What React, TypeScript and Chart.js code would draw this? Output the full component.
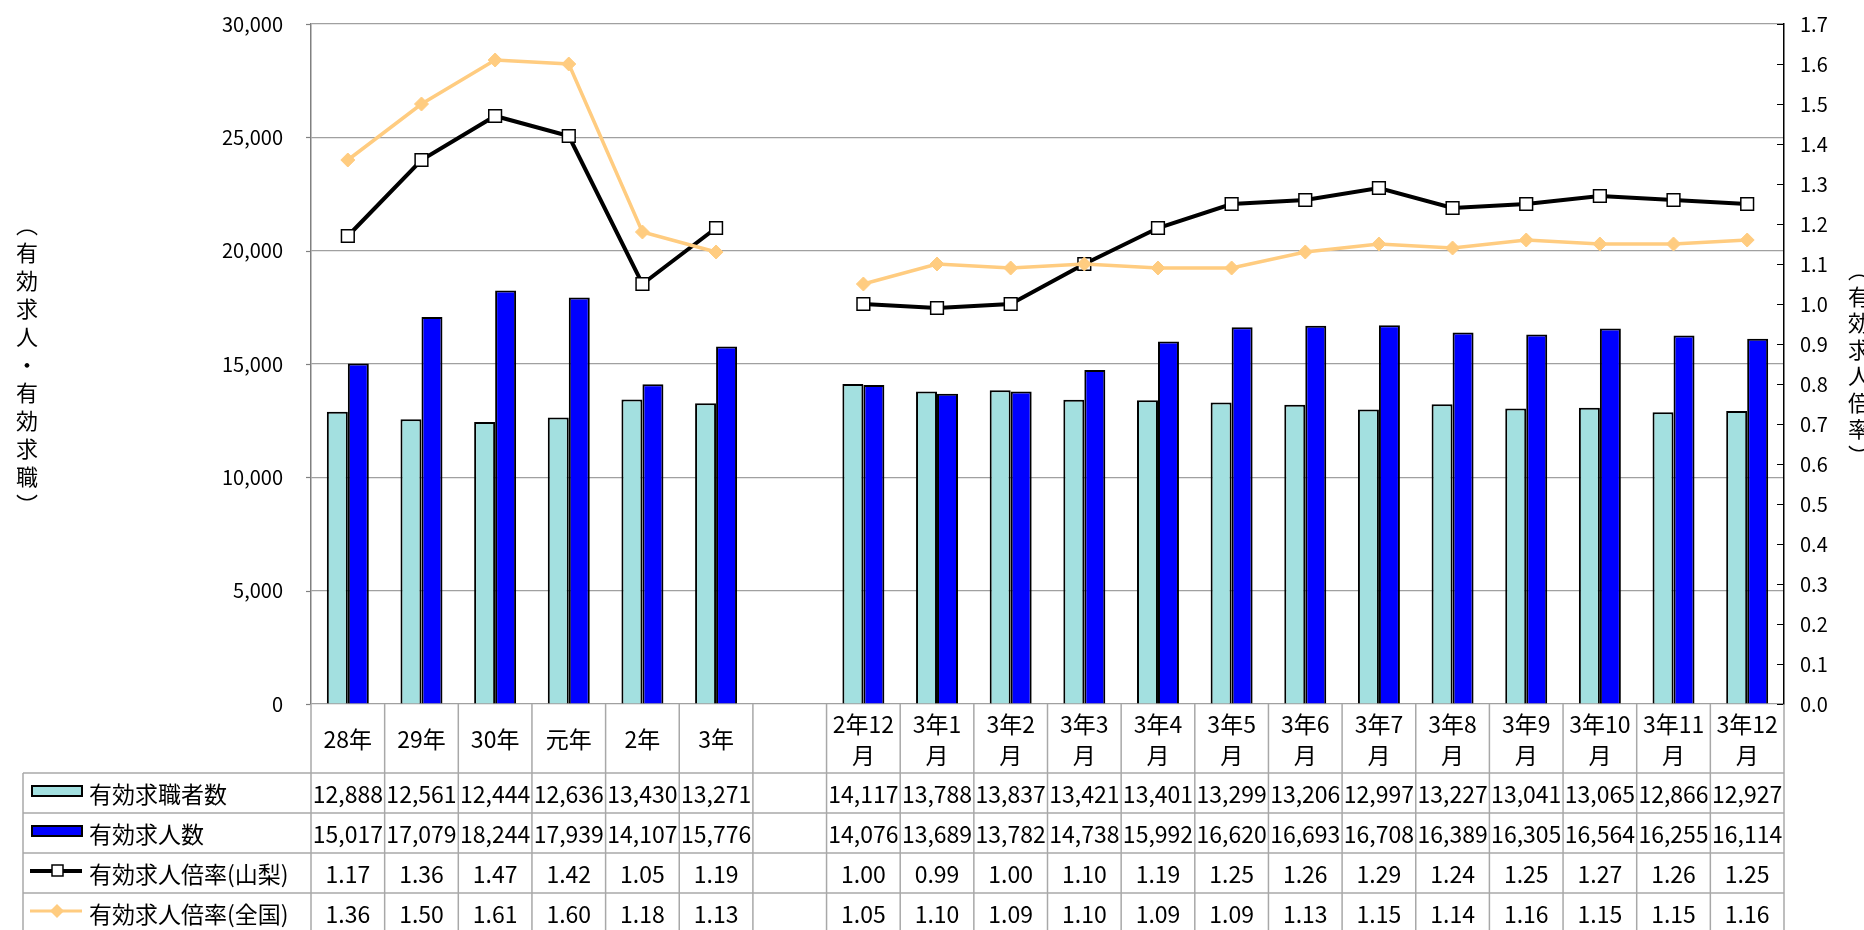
import React, { useEffect, useRef } from "react";
import { Chart, registerables } from "chart.js";

Chart.register(...registerables);

const categoryLines: string[][] = [
  ["28年"], ["29年"], ["30年"], ["元年"], ["2年"], ["3年"], [""],
  ["2年12", "月"], ["3年1", "月"], ["3年2", "月"], ["3年3", "月"], ["3年4", "月"],
  ["3年5", "月"], ["3年6", "月"], ["3年7", "月"], ["3年8", "月"], ["3年9", "月"],
  ["3年10", "月"], ["3年11", "月"], ["3年12", "月"],
];

const jobSeekers: (number | null)[] = [
  12888, 12561, 12444, 12636, 13430, 13271, null,
  14117, 13788, 13837, 13421, 13401, 13299, 13206, 12997, 13227, 13041, 13065, 12866, 12927,
];
const jobOpenings: (number | null)[] = [
  15017, 17079, 18244, 17939, 14107, 15776, null,
  14076, 13689, 13782, 14738, 15992, 16620, 16693, 16708, 16389, 16305, 16564, 16255, 16114,
];
const ratioYamanashi: (number | null)[] = [
  1.17, 1.36, 1.47, 1.42, 1.05, 1.19, null,
  1.0, 0.99, 1.0, 1.1, 1.19, 1.25, 1.26, 1.29, 1.24, 1.25, 1.27, 1.26, 1.25,
];
const ratioNational: (number | null)[] = [
  1.36, 1.5, 1.61, 1.6, 1.18, 1.13, null,
  1.05, 1.1, 1.09, 1.1, 1.09, 1.09, 1.13, 1.15, 1.14, 1.16, 1.15, 1.15, 1.16,
];

const seriesNames = ["有効求職者数", "有効求人数", "有効求人倍率(山梨)", "有効求人倍率(全国)"];
const leftTitle = "（有効求人・有効求職）";
const rightTitle = "（有効求人倍率）";

const FONT = "'Noto Sans CJK JP', 'Noto Sans', sans-serif";
const CYAN = "#A3E0E0";
const BLUE = "#0000FF";
const ORANGE = "#FFCC80";
const GRID = "#A0A0A0";

const tablePlugin = {
  id: "dataTable",
  afterDraw(chart: any) {
    const { ctx, chartArea: a, scales } = chart;
    const y = scales.y;
    const y1 = scales.y1;
    const n = categoryLines.length;
    const cw = a.width / n;
    ctx.save();

    // outward ticks on the left axis
    ctx.strokeStyle = "#808080";
    ctx.lineWidth = 1.2;
    y.ticks.forEach((t: any) => {
      const py = Math.round(y.getPixelForValue(t.value)) + 0.5;
      ctx.beginPath();
      ctx.moveTo(a.left - 5, py);
      ctx.lineTo(a.left, py);
      ctx.stroke();
    });

    // inward ticks on the right axis
    ctx.strokeStyle = "#000";
    ctx.lineWidth = 1;
    y1.ticks.forEach((t: any) => {
      const py = Math.round(y1.getPixelForValue(t.value)) + 0.5;
      ctx.beginPath();
      ctx.moveTo(a.right - 7, py);
      ctx.lineTo(a.right, py);
      ctx.stroke();
    });

    const rowTop = 773;
    const rowH = 40;
    const tableLeft = 23;
    const bottom = 940;

    ctx.strokeStyle = "#A8A8A8";
    ctx.lineWidth = 1.5;
    for (let i = 0; i <= n; i++) {
      const bx = a.left + i * cw;
      ctx.beginPath();
      ctx.moveTo(bx, a.bottom);
      ctx.lineTo(bx, bottom);
      ctx.stroke();
    }
    ctx.beginPath();
    ctx.moveTo(tableLeft, rowTop);
    ctx.lineTo(tableLeft, bottom);
    ctx.stroke();
    for (let r = 0; r < 4; r++) {
      const yy = rowTop + r * rowH;
      ctx.beginPath();
      ctx.moveTo(tableLeft, yy);
      ctx.lineTo(a.right, yy);
      ctx.stroke();
    }

    // category labels
    ctx.fillStyle = "#000";
    ctx.font = `23px ${FONT}`;
    ctx.textAlign = "center";
    ctx.textBaseline = "middle";
    categoryLines.forEach((lines, i) => {
      const cx = a.left + (i + 0.5) * cw;
      if (lines.length === 1) {
        ctx.fillText(lines[0], cx, 739);
      } else {
        ctx.fillText(lines[0], cx, 724);
        ctx.fillText(lines[1], cx, 755);
      }
    });

    // row values
    const rows = [jobSeekers, jobOpenings, ratioYamanashi, ratioNational];
    rows.forEach((vals, r) => {
      const cy = rowTop + r * rowH + rowH / 2 + 1;
      vals.forEach((v, i) => {
        if (v === null) return;
        const cx = a.left + (i + 0.5) * cw;
        const s = r < 2 ? v.toLocaleString("en-US") : v.toFixed(2);
        ctx.fillText(s, cx, cy);
      });
    });

    // row headers with legend swatches
    ctx.textAlign = "left";
    seriesNames.forEach((name, r) => {
      const cy = rowTop + r * rowH + rowH / 2 + 1;
      ctx.fillStyle = "#000";
      ctx.fillText(name, 89, cy);
      if (r < 2) {
        ctx.fillStyle = r === 0 ? CYAN : BLUE;
        ctx.fillRect(32, cy - 8, 50, 10);
        ctx.strokeStyle = "#000";
        ctx.lineWidth = 2;
        ctx.strokeRect(32, cy - 8, 50, 10);
      } else if (r === 2) {
        ctx.strokeStyle = "#000";
        ctx.lineWidth = 4;
        ctx.beginPath();
        ctx.moveTo(30, cy - 3);
        ctx.lineTo(82, cy - 3);
        ctx.stroke();
        ctx.fillStyle = "#fff";
        ctx.fillRect(52, cy - 9, 11, 11);
        ctx.lineWidth = 1.5;
        ctx.strokeRect(52, cy - 9, 11, 11);
      } else {
        ctx.strokeStyle = ORANGE;
        ctx.lineWidth = 3;
        ctx.beginPath();
        ctx.moveTo(30, cy - 3);
        ctx.lineTo(82, cy - 3);
        ctx.stroke();
        ctx.fillStyle = ORANGE;
        ctx.beginPath();
        ctx.moveTo(57, cy - 10);
        ctx.lineTo(64, cy - 3);
        ctx.lineTo(57, cy + 4);
        ctx.lineTo(50, cy - 3);
        ctx.closePath();
        ctx.fill();
      }
    });

    ctx.restore();
  },
};

export default function App() {
  const canvasRef = useRef<HTMLCanvasElement | null>(null);

  useEffect(() => {
    const canvas = canvasRef.current;
    if (!canvas) return;
    const chart = new Chart(canvas, {
      type: "bar",
      data: {
        labels: categoryLines.map((l) => l.join("")),
        datasets: [
          {
            type: "line",
            label: seriesNames[3],
            data: ratioNational,
            yAxisID: "y1",
            borderColor: ORANGE,
            borderWidth: 3.5,
            pointStyle: "rectRot",
            pointRadius: 7,
            pointBackgroundColor: ORANGE,
            pointBorderColor: ORANGE,
            pointBorderWidth: 1,
            tension: 0,
            spanGaps: false,
            order: 0,
          } as any,
          {
            type: "line",
            label: seriesNames[2],
            data: ratioYamanashi,
            yAxisID: "y1",
            borderColor: "#000",
            borderWidth: 4,
            pointStyle: "rect",
            pointRadius: 9,
            pointBackgroundColor: "#fff",
            pointBorderColor: "#000",
            pointBorderWidth: 1.5,
            tension: 0,
            spanGaps: false,
            order: 1,
          } as any,
          {
            type: "bar",
            label: seriesNames[0],
            data: jobSeekers,
            yAxisID: "y",
            backgroundColor: CYAN,
            borderColor: "#000",
            borderWidth: 2,
            categoryPercentage: 0.57,
            barPercentage: 1,
            order: 2,
          } as any,
          {
            type: "bar",
            label: seriesNames[1],
            data: jobOpenings,
            yAxisID: "y",
            backgroundColor: BLUE,
            borderColor: "#000",
            borderWidth: 2,
            categoryPercentage: 0.57,
            barPercentage: 1,
            order: 2,
          } as any,
        ],
      },
      options: {
        responsive: false,
        animation: false,
        devicePixelRatio: 1,
        layout: { padding: { top: 24, bottom: 226, left: 0, right: 0 } },
        plugins: {
          legend: { display: false },
          tooltip: { enabled: false },
        },
        scales: {
          x: {
            display: false,
            offset: true,
          },
          y: {
            position: "left",
            min: 0,
            max: 30000,
            ticks: {
              stepSize: 5000,
              padding: 0,
              color: "#000",
              font: { family: FONT, size: 20 },
              callback: (v: any) => Number(v).toLocaleString("en-US"),
            },
            grid: { color: GRID, lineWidth: 1.2, tickLength: 28, tickColor: "rgba(0,0,0,0)" },
            border: { color: "#808080", width: 1.5 },
            afterFit: (s: any) => {
              s.width = 311;
            },
          },
          y1: {
            position: "right",
            min: 0,
            max: 1.7,
            ticks: {
              stepSize: 0.1,
              padding: 0,
              color: "#000",
              font: { family: FONT, size: 20 },
              callback: (v: any) => Number(v).toFixed(1),
            },
            grid: { drawOnChartArea: false, drawTicks: true, tickLength: 16, tickColor: "rgba(0,0,0,0)" },
            border: { color: "#000", width: 1.5 },
            afterFit: (s: any) => {
              s.width = 80;
            },
          },
        },
      },
      plugins: [tablePlugin],
    });
    return () => chart.destroy();
  }, []);

  const titleStyle: React.CSSProperties = {
    position: "absolute",
    writingMode: "vertical-rl",
    fontFamily: FONT,
    fontSize: "22px",
    lineHeight: "22px",
    width: "22px",
    color: "#000",
    margin: 0,
  };

  return (
    <div
      style={{
        position: "absolute",
        left: 0,
        top: 0,
        width: 1864,
        height: 930,
        overflow: "hidden",
        background: "#fff",
      }}
    >
      <canvas ref={canvasRef} width={1864} height={930} style={{ display: "block" }} />
      <div style={{ ...titleStyle, left: 16, top: 214, letterSpacing: "6px" }}>{leftTitle}</div>
      <div style={{ ...titleStyle, left: 1848, top: 259, letterSpacing: "4.5px" }}>{rightTitle}</div>
    </div>
  );
}
